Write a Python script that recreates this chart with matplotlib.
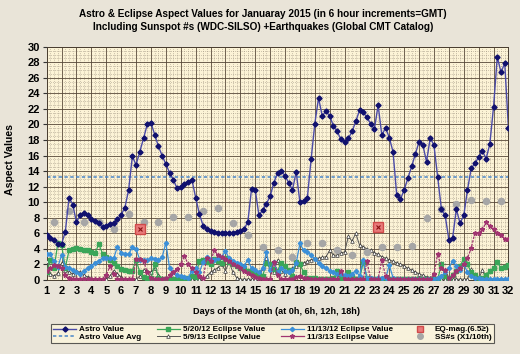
import numpy as np
import matplotlib
matplotlib.use("Agg")
import matplotlib.pyplot as plt
from matplotlib.lines import Line2D

# ---------------- data (6-hour steps, day 1.00 .. 32.00) ----------------
astro = [5.8, 5.45, 5.1, 4.65, 4.65, 6.2, 10.6, 9.7, 7.4, 8.4, 8.6, 8.3,
         7.9, 7.6, 7.3, 6.8, 6.9, 7.2, 7.3, 7.8, 8.4, 9.3, 11.6, 15.9,
         14.8, 16.5, 18.2, 20.0, 20.2, 18.7, 17.2, 16.0, 14.9, 13.8, 12.9, 11.8,
         12.0, 12.3, 12.6, 12.9, 10.6, 8.5, 7.0, 6.6, 6.3, 6.2, 6.1, 6.1,
         6.1, 6.1, 6.1, 6.2, 6.3, 6.6, 7.4, 11.7, 11.6, 8.3, 9.0, 9.8,
         10.8, 12.5, 13.8, 14.0, 13.4, 12.5, 11.6, 13.9, 10.0, 10.1, 10.6, 15.5,
         20.1, 23.4, 21.1, 21.7, 21.1, 19.8, 19.1, 18.1, 17.8, 18.2, 19.1, 20.4,
         21.8, 21.6, 20.9, 20.1, 19.4, 22.5, 18.6, 19.6, 18.3, 16.5, 10.9, 10.4,
         11.6, 13.1, 14.6, 16.2, 17.8, 17.4, 15.2, 18.3, 17.3, 13.2, 9.1, 8.3,
         5.2, 5.35, 9.1, 7.3, 8.3, 11.6, 14.35, 15.0, 15.8, 16.6, 15.6, 17.5,
         22.3, 28.7, 26.7, 27.9, 19.5]
astro_avg = 13.2

ecl_5_20_12 = [1.0, 2.6, 1.5, 4.8, 4.5, 1.6, 3.8, 4.0, 4.1, 4.0, 3.9, 3.8,
               3.6, 3.5, 4.6, 3.4, 3.0, 2.6, 2.2, 1.8, 1.4, 1.3, 1.2, 1.2,
               2.6, 1.0, 0.4, 0.2, 0.2, 2.0, 0.3, 0.1, 0.1, 0.1, 0.1, 0.1,
               0.2, 0.3, 0.3, 0.5, 0.4, 2.5, 2.6, 2.3, 2.0, 2.7, 2.4, 2.2,
               2.8, 2.3, 2.0, 1.8, 1.6, 1.4, 1.2, 1.0, 0.8, 0.6, 0.5, 2.2,
               2.0, 1.4, 1.2, 2.2, 1.8, 1.3, 0.5, 2.3, 2.0, 1.0, 0.3, 0.2,
               0.3, 0.1, 0.1, 0.1, 0.1, 0.2, 1.1, 0.3, 0.2, 1.0, 0.4, 0.1,
               0.1, 2.3, 0.2, 0.1, 0.1, 0.1, 0.1, 0.1, 0.1, 0.1, 0.1, 0.1,
               0.1, 0.1, 0.1, 0.1, 0.1, 0.1, 0.1, 0.1, 0.1, 0.1, 2.0, 0.5,
               0.3, 0.6, 1.2, 1.8, 2.7, 2.0, 1.0, 0.6, 0.2, 0.3, 0.7, 1.2,
               1.5, 2.3, 1.5, 1.7, 1.9]

ecl_5_9_13 = [2.4, 0.8, 0.5, 0.9, 2.2, 1.3, 1.0, 0.8, 1.2, 1.0, 0.6, 0.4,
              0.2, 0.1, 0.1, 0.1, 0.1, 0.5, 1.2, 0.8, 0.4, 0.1, 0.1, 0.1,
              0.1, 0.5, 1.3, 1.2, 1.0, 1.5, 0.7, 0.2, 0.1, 0.1, 0.1, 0.1,
              0.1, 0.1, 0.1, 0.1, 0.1, 0.1, 0.1, 0.5, 1.0, 1.3, 1.6, 2.0,
              1.2, 2.3, 1.0, 0.3, 0.1, 0.1, 0.1, 0.1, 0.1, 0.2, 1.5, 2.8,
              1.8, 1.0, 2.6, 1.2, 0.8, 1.2, 1.5, 1.8, 2.0, 2.2, 2.4, 2.6,
              2.8, 2.8, 2.9, 3.0, 3.8, 3.2, 3.2, 3.5, 3.6, 5.6, 5.0, 6.0,
              4.5, 4.3, 4.0, 3.8, 3.5, 3.3, 3.0, 2.8, 2.6, 2.4, 2.2, 2.0,
              1.8, 1.5, 1.3, 1.0, 0.8, 0.6, 0.4, 0.2, 0.1, 0.1, 0.1, 0.1,
              0.1, 0.1, 0.1, 0.1, 0.1, 0.1, 1.4, 0.2, 0.1, 1.3, 0.1, 0.1,
              0.1, 0.1, 0.1, 0.1, 0.1]

ecl_11_13_12 = [3.3, 3.3, 2.4, 1.7, 3.2, 1.7, 1.5, 1.3, 1.0, 0.8, 1.2, 1.5,
                1.8, 2.2, 2.5, 2.8, 2.8, 2.8, 2.8, 4.3, 3.5, 3.4, 3.3, 4.2,
                4.0, 2.6, 2.6, 2.6, 2.8, 2.7, 2.6, 2.9, 4.8, 1.5, 1.0, 0.7,
                0.5, 0.4, 0.3, 1.2, 1.5, 1.0, 2.3, 3.0, 2.7, 2.6, 2.8, 3.0,
                3.7, 2.8, 2.5, 2.2, 2.0, 1.8, 2.6, 1.5, 1.3, 1.0, 1.5, 3.6,
                1.3, 2.3, 1.0, 1.5, 1.2, 1.0, 1.3, 2.2, 4.7, 3.8, 3.6, 3.2,
                2.7, 2.2, 1.8, 1.5, 1.2, 1.0, 0.8, 0.8, 0.6, 0.5, 0.8, 1.2,
                0.5, 2.6, 0.3, 0.2, 0.1, 0.2, 0.3, 0.2, 1.9, 0.3, 0.1, 0.1,
                0.1, 0.1, 0.1, 0.1, 0.1, 0.1, 0.1, 0.1, 0.1, 0.2, 0.5, 1.0,
                1.5, 2.5, 1.8, 1.3, 2.0, 1.0, 0.5, 0.3, 0.2, 0.1, 0.1, 0.1,
                0.1, 0.1, 0.1, 0.1, 0.1]

ecl_11_3_13 = [1.1, 1.6, 1.9, 1.8, 1.6, 0.6, 0.2, 0.1, 0.1, 0.1, 0.1, 0.1,
               0.1, 0.1, 0.1, 0.1, 0.6, 1.8, 0.8, 0.1, 0.1, 0.1, 0.1, 0.1,
               2.7, 2.7, 2.5, 1.0, 0.3, 0.1, 0.1, 0.1, 0.2, 0.6, 1.0, 1.4,
               2.0, 3.1, 2.0, 1.5, 1.0, 0.5, 0.3, 2.8, 2.4, 3.8, 3.2, 3.0,
               2.7, 2.4, 2.1, 1.8, 1.5, 1.2, 0.9, 0.6, 0.4, 0.2, 0.1, 0.1,
               0.1, 2.3, 0.6, 0.1, 0.1, 0.1, 0.1, 0.4, 0.5, 0.3, 0.2, 0.1,
               0.1, 0.1, 0.1, 0.1, 0.1, 0.1, 0.1, 1.2, 0.1, 0.1, 0.1, 0.1,
               0.1, 0.1, 2.4, 0.1, 0.1, 0.1, 2.6, 0.5, 0.1, 0.1, 0.1, 0.1,
               0.1, 0.1, 0.1, 0.1, 0.1, 0.1, 0.1, 0.1, 0.8, 3.4, 1.5, 1.3,
               0.2, 0.6, 1.2, 1.5, 2.1, 2.8, 4.1, 6.1, 6.0, 6.5, 7.4, 6.9,
               6.5, 6.1, 5.8, 5.3, 5.3]

ss_days = [d + 0.5 for d in range(1, 32)]
ss_vals = [7.5, 8.9, 7.4, 7.4, 6.6, 8.5, 7.4, 7.4, 8.1, 8.1, 8.9, 9.2,
           7.3, 5.8, 4.3, 3.8, 2.9, 4.8, 4.8, 3.8, 3.2, 3.6, 4.2, 4.2,
           4.4, 8.0, 9.1, 9.8, 10.3, 10.2, 10.1]

eq_days = [7.25, 23.25]
eq_vals = [6.5, 6.8]

x_ticks = list(range(1, 33))
y_ticks = list(range(0, 31, 2))

title_text = ("Astro & Eclipse Aspect Values for Januaray 2015 (in 6 hour increments=GMT)\n"
              "Including Sunspot #s (WDC-SILSO) +Earthquakes (Global CMT Catalog)")
x_label = "Days of the Month (at 0h, 6h, 12h, 18h)"
y_label = "Aspect Values"

# ---------------- drawing ----------------
plt.rcParams['font.family'] = ['Liberation Sans', 'DejaVu Sans']
plt.rcParams['font.weight'] = 'bold'

t = 1 + 0.25 * np.arange(len(astro))

fig = plt.figure(figsize=(5.2, 3.54), dpi=100)
fig.patch.set_facecolor('#e9e4d8')
ax = fig.add_axes([0.0898, 0.209, 0.888, 0.659])
ax.set_facecolor('#fcf3d6')

ax.set_xlim(1, 32)
ax.set_ylim(0, 30)
ax.set_xticks(x_ticks)
ax.set_yticks(y_ticks)
ax.set_xticks(np.arange(1, 32.01, 0.25), minor=True)
ax.set_yticks(np.arange(0, 30.01, 0.5), minor=True)
ax.grid(which='major', color='#564838', lw=0.6, ls='-', zorder=0)
ax.grid(which='minor', color='#8e8270', lw=0.45, ls=(0, (1, 2)), zorder=0)
ax.set_axisbelow(True)
ax.tick_params(axis='both', which='minor', length=0)
ax.tick_params(axis='x', which='major', length=0, labelsize=8, pad=4)
ax.tick_params(axis='y', which='major', length=3, labelsize=8, pad=2, color='#333333')
for lab in ax.get_xticklabels() + ax.get_yticklabels():
    lab.set_fontweight('bold')
for s in ax.spines.values():
    s.set_color('#4a3e31')
    s.set_linewidth(0.7)

# avg line
ax.axhline(astro_avg, color='#4a86c8', lw=1.1, ls=(0, (2.2, 1.6)), zorder=2)

ms = 2.6
ax.plot(t, ecl_5_9_13, color='#555555', lw=0.7, marker='^', ms=ms,
        mfc='white', mec='#333333', mew=0.5, zorder=3)
ax.plot(t, ecl_5_20_12, color='#3aa658', lw=0.9, marker='s', ms=ms,
        mfc='#3aa658', mec='#3aa658', zorder=3)
ax.plot(t, ecl_11_13_12, color='#3b8fd8', lw=0.9, marker='D', ms=ms - 0.4,
        mfc='#3b8fd8', mec='#3b8fd8', zorder=4)
ax.plot(t, ecl_11_3_13, color='#a03470', lw=0.9, marker='*', ms=ms + 0.8,
        mfc='#a03470', mec='#a03470', zorder=4, ls=(0, (2, 1)))
ax.plot(ss_days, ss_vals, ls='none', marker='o', ms=4.4, mfc='#a6a6a6',
        mec='#a6a6a6', zorder=5)
ax.plot(eq_days, eq_vals, ls='none', marker='s', ms=7, mfc='#e87a7a',
        mec='#d04a4a', zorder=6)
ax.plot(eq_days, eq_vals, ls='none', marker='x', ms=3.5, mec='#8b1010',
        mew=0.8, zorder=7)
ax.plot(t, astro, color='#4b4ba8', lw=1.0, marker='D', ms=2.6,
        mfc='#10106e', mec='#10106e', zorder=8)

fig.text(0.506, 0.942, title_text, ha='center', va='center', fontsize=7.2,
         fontweight='bold', linespacing=1.45)
fig.text(0.531, 0.121, x_label, ha='center', va='center', fontsize=6.6,
         fontweight='bold')
fig.text(0.020, 0.55, y_label, ha='center', va='center', rotation=90,
         fontsize=7.6, fontweight='bold')

handles = [
    Line2D([], [], color='#4b4ba8', lw=1.0, marker='D', ms=2.6, mfc='#10106e', mec='#10106e'),
    Line2D([], [], color='#4a86c8', lw=1.1, ls=(0, (2.2, 1.6))),
    Line2D([], [], color='#3aa658', lw=0.9, marker='s', ms=ms, mfc='#3aa658', mec='#3aa658'),
    Line2D([], [], color='#555555', lw=0.7, marker='^', ms=ms, mfc='white', mec='#333333', mew=0.5),
    Line2D([], [], color='#3b8fd8', lw=0.9, marker='D', ms=ms - 0.4, mfc='#3b8fd8', mec='#3b8fd8'),
    Line2D([], [], color='#a03470', lw=0.9, marker='*', ms=ms + 0.8, mfc='#a03470', mec='#a03470'),
    Line2D([], [], ls='none', marker='s', ms=5, mfc='#e87a7a', mec='#d04a4a'),
    Line2D([], [], ls='none', marker='o', ms=4, mfc='#a6a6a6', mec='#a6a6a6'),
]
labels = ["Astro Value", "Astro Value Avg", "5/20/12 Eclipse Value", "5/9/13 Eclipse Value",
          "11/13/12 Eclipse Value", "11/3/13 Eclipse Value", "EQ-mag.(6.5\u2265)", "SS#s (X1/10th)"]
leg = fig.legend(handles, labels, ncol=4, loc='center', bbox_to_anchor=(0.524, 0.058),
                 frameon=True, fancybox=False, handlelength=2.7,
                 handletextpad=0.4, columnspacing=2.0, labelspacing=0.0,
                 borderpad=0.25, prop={'weight': 'bold', 'size': 5.9})
leg.get_frame().set_facecolor('#fdf6de')
leg.get_frame().set_edgecolor('#333333')
leg.get_frame().set_linewidth(0.8)

fig.savefig('out.png', dpi=100, facecolor=fig.get_facecolor())
